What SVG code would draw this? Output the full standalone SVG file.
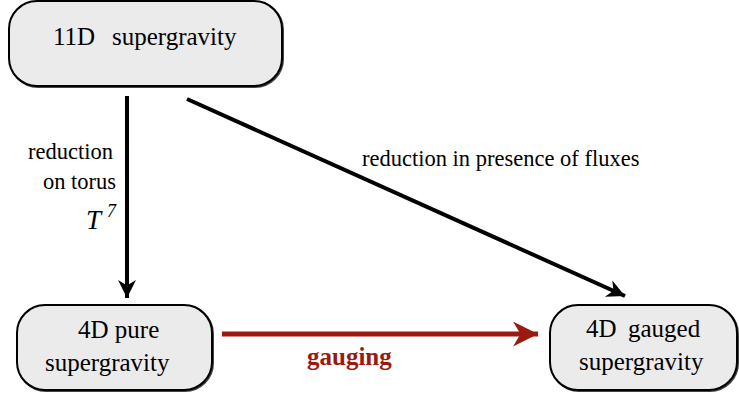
<svg xmlns="http://www.w3.org/2000/svg" width="739" height="394" viewBox="0 0 739 394">
<style type="text/css">
.box{fill:#ebebeb;stroke:#000;stroke-width:2}
.sh{fill:none;stroke:#444;stroke-width:2}
.t{font-family:"Liberation Serif","Times New Roman",serif;font-size:25px;fill:#000}
.lbl{font-family:"Liberation Serif","Times New Roman",serif;font-size:22.5px;fill:#000}
.conn{stroke:#000;stroke-width:4;fill:none}
</style>
<defs>
<marker id="ah" viewBox="0 0 10 10" refX="10" refY="5" markerWidth="5" markerHeight="4.5" markerUnits="strokeWidth" orient="auto"><path d="M0,0 L10,5 L0,10 L3,5 Z" fill="#000"/></marker>
<marker id="ahr" viewBox="0 0 10 10" refX="10" refY="5" markerWidth="5.5" markerHeight="5" markerUnits="strokeWidth" orient="auto"><path d="M0,0 L10,5 L0,10 L3,5 Z" fill="#9b1a0f"/></marker>
</defs>
<rect width="739" height="394" fill="#fff"/>
<g id="n1">
<rect class="sh" x="10" y="2" width="273" height="85" rx="28"/>
<rect class="box" x="9" y="1" width="273" height="85" rx="28"/>
<text class="t" x="53" y="45">11D<tspan x="112">supergravity</tspan></text>
</g>
<g id="n2">
<rect class="sh" x="18" y="306" width="195" height="85" rx="28"/>
<rect class="box" x="17" y="305" width="195" height="85" rx="28"/>
<text class="t" x="78" y="338">4D pure</text>
<text class="t" x="45" y="371">supergravity</text>
</g>
<g id="n3">
<rect class="sh" x="551" y="306" width="187" height="85" rx="28"/>
<rect class="box" x="550" y="305" width="187" height="85" rx="28"/>
<text class="t" x="586" y="337">4D<tspan x="628">gauged</tspan></text>
<text class="t" x="579" y="370">supergravity</text>
</g>
<g id="connectors">
<line class="conn" x1="127" y1="96" x2="127" y2="298" marker-end="url(#ah)"/>
<line class="conn" x1="187" y1="99" x2="625" y2="296" marker-end="url(#ah)"/>
<line x1="222" y1="334" x2="538" y2="334" stroke="#9b1a0f" stroke-width="5" marker-end="url(#ahr)"/>
<text class="lbl" x="113" y="159" text-anchor="end">reduction</text>
<text class="lbl" x="116" y="189" text-anchor="end">on torus</text>
<text x="86" y="229" font-family="Liberation Serif,serif" font-style="italic" font-size="27">T</text>
<text x="107" y="217" font-family="Liberation Serif,serif" font-style="italic" font-size="18">7</text>
<text class="lbl" x="362" y="166">reduction in presence of fluxes</text>
<text x="307" y="365" font-family="Liberation Serif,serif" font-weight="bold" font-size="25" fill="#9b1a0f">gauging</text>
</g>
</svg>
